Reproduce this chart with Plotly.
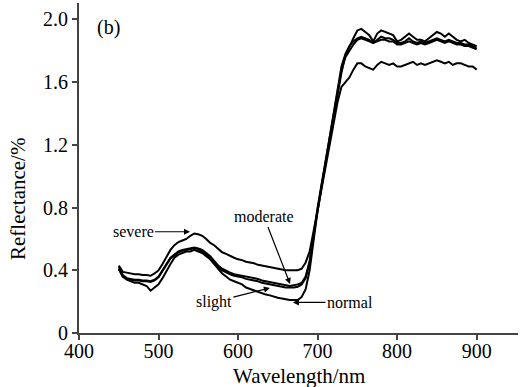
import plotly.graph_objects as go

wavelength = list(range(450, 905, 5))

normal = [0.41, 0.36, 0.34, 0.33, 0.32, 0.32, 0.31, 0.30, 0.27, 0.29,
          0.31, 0.35, 0.40, 0.44, 0.48, 0.50, 0.51, 0.52, 0.52, 0.53,
          0.52, 0.51, 0.49, 0.47, 0.44, 0.41, 0.38, 0.36, 0.34, 0.33,
          0.32, 0.31, 0.29, 0.28, 0.27, 0.26, 0.25, 0.245, 0.24, 0.23,
          0.225, 0.22, 0.215, 0.21, 0.21, 0.21, 0.23, 0.28, 0.40, 0.60,
          0.78, 0.93, 1.08, 1.23, 1.38, 1.52, 1.66, 1.77, 1.83, 1.88,
          1.93, 1.94, 1.92, 1.90, 1.86, 1.91, 1.93, 1.92, 1.91, 1.90,
          1.86, 1.87, 1.89, 1.91, 1.89, 1.87, 1.87, 1.86, 1.88, 1.90,
          1.92, 1.91, 1.89, 1.91, 1.89, 1.87, 1.86, 1.87, 1.85, 1.84,
          1.83]

slight = [0.41, 0.36, 0.345, 0.34, 0.335, 0.335, 0.33, 0.33, 0.325, 0.335,
          0.355, 0.395, 0.435, 0.475, 0.495, 0.515, 0.525, 0.53, 0.535, 0.54,
          0.535, 0.52, 0.50, 0.48, 0.45, 0.42, 0.40, 0.385, 0.375, 0.365,
          0.36, 0.355, 0.345, 0.34, 0.335, 0.33, 0.32, 0.315, 0.31, 0.305,
          0.30, 0.295, 0.29, 0.29, 0.29, 0.295, 0.31, 0.35, 0.45, 0.62,
          0.79, 0.94, 1.09, 1.24, 1.39, 1.54, 1.70, 1.78, 1.83, 1.86,
          1.88, 1.89, 1.88, 1.87, 1.85, 1.87, 1.89, 1.88, 1.88, 1.87,
          1.85, 1.85, 1.86, 1.88, 1.86, 1.85, 1.86, 1.85, 1.86, 1.87,
          1.88, 1.87, 1.86, 1.87, 1.86, 1.85, 1.85, 1.84, 1.84, 1.83,
          1.82]

moderate = [0.42, 0.37, 0.35, 0.345, 0.34, 0.34, 0.335, 0.335, 0.33, 0.34,
            0.36, 0.40, 0.44, 0.48, 0.50, 0.52, 0.53, 0.535, 0.54, 0.545,
            0.54, 0.53, 0.51, 0.49, 0.46, 0.43, 0.41, 0.395, 0.385, 0.375,
            0.37, 0.365, 0.36, 0.355, 0.35, 0.345, 0.335, 0.33, 0.325, 0.32,
            0.315, 0.31, 0.305, 0.30, 0.305, 0.31, 0.32, 0.36, 0.46, 0.64,
            0.80, 0.95, 1.10, 1.25, 1.40, 1.55, 1.68, 1.76, 1.80, 1.84,
            1.87, 1.88, 1.87, 1.86, 1.85, 1.86, 1.87, 1.87, 1.86, 1.86,
            1.84, 1.84, 1.85, 1.86, 1.85, 1.84, 1.85, 1.84, 1.85, 1.86,
            1.87, 1.86, 1.85, 1.86, 1.85, 1.84, 1.84, 1.83, 1.83, 1.82,
            1.81]

severe = [0.43, 0.39, 0.385, 0.38, 0.375, 0.375, 0.37, 0.37, 0.365, 0.38,
          0.40, 0.44, 0.49, 0.53, 0.56, 0.58, 0.59, 0.60, 0.62, 0.635,
          0.63, 0.62, 0.60, 0.575, 0.56, 0.535, 0.515, 0.505, 0.49, 0.48,
          0.47, 0.465, 0.455, 0.45, 0.445, 0.435, 0.43, 0.425, 0.42, 0.415,
          0.41, 0.405, 0.40, 0.40, 0.40, 0.40, 0.41, 0.45, 0.52, 0.64,
          0.78, 0.92, 1.06, 1.20, 1.35, 1.47, 1.57, 1.60, 1.63, 1.68,
          1.72, 1.72, 1.70, 1.69, 1.68, 1.71, 1.73, 1.72, 1.71, 1.72,
          1.70, 1.70, 1.71, 1.72, 1.73, 1.71, 1.72, 1.71, 1.72, 1.73,
          1.74, 1.73, 1.72, 1.73, 1.71, 1.72, 1.72, 1.71, 1.70, 1.70,
          1.68]

series = {"normal": normal, "slight": slight, "moderate": moderate, "severe": severe}

x_ticks = [400, 500, 600, 700, 800, 900]
y_ticks = [0, 0.4, 0.8, 1.2, 1.6, 2.0]
y_tick_labels = ["0", "0.4", "0.8", "1.2", "1.6", "2.0"]

# annotation labels: text, arrow tip (wavelength, reflectance), text offset (px)
label_names = ["severe", "moderate", "slight", "normal"]
label_tip_x = [539.6, 665.4, 640.0, 669.0]
label_tip_y = [0.646, 0.313, 0.287, 0.195]
label_ax = [-57, -26, -56, 57]
label_ay = [0, -67, 14, 0]

FONT = "Liberation Serif, Times New Roman, serif"

fig = go.Figure()
for name, vals in series.items():
    fig.add_trace(go.Scatter(x=wavelength, y=vals, mode="lines", name=name,
                             line=dict(color="black", width=2), showlegend=False))

for t, tx, ty, ax, ay in zip(label_names, label_tip_x, label_tip_y, label_ax, label_ay):
    fig.add_annotation(x=tx, y=ty, ax=ax, ay=ay, text=t, showarrow=True,
                       arrowhead=2, arrowsize=1, arrowwidth=1.2, arrowcolor="black",
                       font=dict(family=FONT, size=16, color="black"))

fig.add_annotation(x=0.036, y=0.927, xref="paper", yref="paper", text="(b)",
                   showarrow=False, xanchor="left", yanchor="middle",
                   font=dict(family=FONT, size=20, color="black"))

# axis titles
fig.add_annotation(x=0.5, y=-0.13, xref="paper", yref="paper", text="Wavelength/nm",
                   showarrow=False, xanchor="center", yanchor="middle",
                   font=dict(family=FONT, size=21, color="black"))
fig.add_annotation(x=-0.139, y=0.406, xref="paper", yref="paper", text="Reflectance/%",
                   showarrow=False, xanchor="center", yanchor="middle", textangle=-90,
                   font=dict(family=FONT, size=21, color="black"))

fig.update_layout(
    width=521, height=387,
    margin=dict(l=79, r=3, t=3, b=54),
    paper_bgcolor="white", plot_bgcolor="white",
    font=dict(family=FONT, size=20, color="black"),
    xaxis=dict(range=[400, 952], tickvals=x_ticks, showgrid=False, zeroline=False,
               showline=True, linecolor="#444", linewidth=2, automargin=False,
               ticks="outside", ticklen=5, tickwidth=2, tickcolor="#444",
               ticklabelstandoff=-6),
    yaxis=dict(range=[0, 2.105], tickvals=y_ticks, ticktext=y_tick_labels,
               showgrid=False, zeroline=False, automargin=False,
               showline=True, linecolor="#444", linewidth=2,
               ticks="outside", ticklen=5, tickwidth=2, tickcolor="#444"),
)

fig.write_html("out.html", config={"displayModeBar": False},
               post_script="document.body.style.margin='0';document.body.style.overflow='hidden';")
